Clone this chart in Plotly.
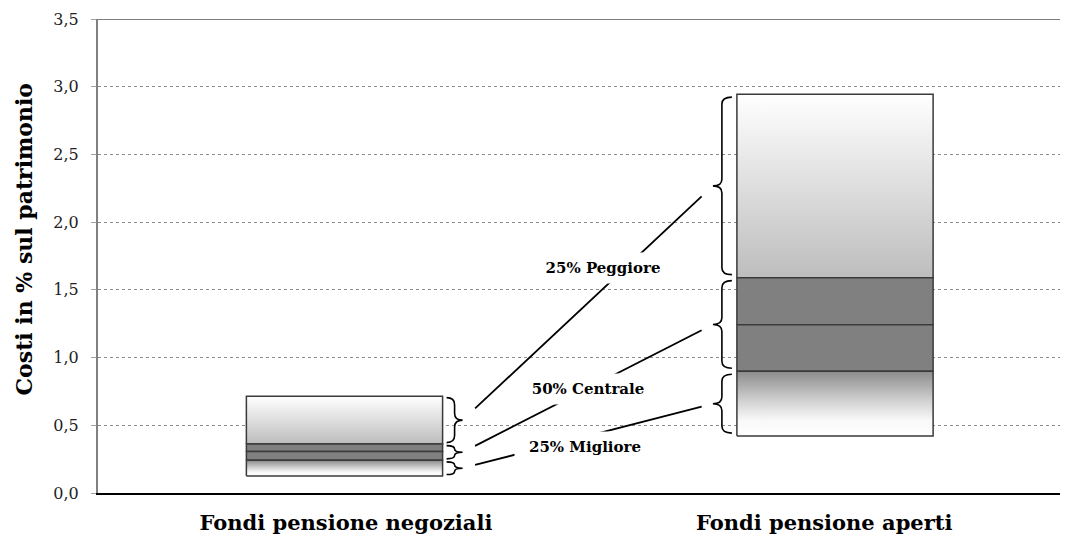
import plotly.graph_objects as go

# ---------------- data ----------------
categories = ["Fondi pensione negoziali", "Fondi pensione aperti"]
cost_min = [0.125, 0.42]
cost_q1 = [0.241, 0.899]
cost_median = [0.307, 1.243]
cost_q3 = [0.361, 1.59]
cost_max = [0.715, 2.945]
band_labels = ["25% Peggiore", "50% Centrale", "25% Migliore"]
y_ticks = [0.0, 0.5, 1.0, 1.5, 2.0, 2.5, 3.0, 3.5]

# ---------------- layout constants ----------------
# the page body has an 8px margin, so the figure is offset by 8px
W, H = 1060, 527
ML, MR, MT, MB = 90, 0, 11, 42
X_RANGE = [-0.5025, 1.475]
Y_RANGE = [0, 3.5]
PXX = (W - ML - MR) / (X_RANGE[1] - X_RANGE[0])   # px per x unit
PXY = (H - MT - MB) / (Y_RANGE[1] - Y_RANGE[0])   # px per y unit
HALF = 0.2
FONT = "DejaVu Serif"
label_pos = [0.003, 0.978]
OUTLINE = "#3a3a3a"

top_scale = [[0, "#bdbdbd"], [1, "#ffffff"]]
bot_scale = [[0, "#ffffff"], [0.25, "#f8f8f8"], [0.55, "#d0d0d0"], [1, "#8c8c8c"]]
MID = "#808080"

fig = go.Figure()


def rect(c, lo, hi, **kw):
    fig.add_trace(go.Scatter(
        x=[c - HALF, c + HALF, c + HALF, c - HALF, c - HALF],
        y=[lo, lo, hi, hi, lo],
        mode="lines", fill="toself",
        line=dict(color=OUTLINE, width=1.5),
        hoverinfo="skip", showlegend=False, **kw))


for i, _ in enumerate(categories):
    c = i
    rect(c, cost_q3[i], cost_max[i], fillgradient=dict(type="vertical", colorscale=top_scale))
    rect(c, cost_median[i], cost_q3[i], fillcolor=MID)
    rect(c, cost_q1[i], cost_median[i], fillcolor=MID)
    rect(c, cost_min[i], cost_q1[i], fillgradient=dict(type="vertical", colorscale=bot_scale))

shapes = []
# top border of the plot area
shapes.append(dict(type="line", xref="paper", yref="y", x0=0, x1=1,
                   y0=Y_RANGE[1], y1=Y_RANGE[1], line=dict(color="#808080", width=2)))


def brace(xs, lo, hi, d, e_px, t_px, inset_px):
    e = e_px / PXX
    t = t_px / PXX
    lo = lo + inset_px / PXY
    hi = hi - inset_px / PXY
    mid = (lo + hi) / 2
    r = min(7 / PXY, (hi - lo) / 4)
    xe = xs - d * e
    xt = xs + d * t
    path = (f"M {xe},{hi} Q {xs},{hi} {xs},{hi - r} L {xs},{mid + r} "
            f"Q {xs},{mid} {xt},{mid} Q {xs},{mid} {xs},{mid - r} "
            f"L {xs},{lo + r} Q {xs},{lo} {xe},{lo}")
    shapes.append(dict(type="path", xref="x", yref="y", path=path,
                       line=dict(color="black", width=1.6)))
    return xt, mid


def segments(i):
    return [(cost_q3[i], cost_max[i]), (cost_q1[i], cost_q3[i]), (cost_min[i], cost_q1[i])]


# left box braces (pointing right), right box braces (pointing left)
left_tips = []
xs_left = 0 + HALF + 12 / PXX
for lo, hi in segments(0):
    left_tips.append(brace(xs_left, lo, hi, +1, 8, 8, 1.5))
right_tips = []
xs_right = 1 - HALF - 15 / PXX
for lo, hi in segments(1):
    right_tips.append(brace(xs_right, lo, hi, -1, 10, 9, 3))

# connecting lines
for (x0, y0), (x1, y1) in zip(left_tips, right_tips):
    f0, f1 = 0.05, 0.955
    shapes.append(dict(type="line", xref="x", yref="y",
                       x0=x0 + (x1 - x0) * f0, y0=y0 + (y1 - y0) * f0,
                       x1=x0 + (x1 - x0) * f1, y1=y0 + (y1 - y0) * f1,
                       line=dict(color="black", width=1.8)))

label_xy = [(0.527, 1.661), (0.496, 0.768), (0.490, 0.340)]
annotations = []
for txt, (ax, ay) in zip(band_labels, label_xy):
    annotations.append(dict(x=ax, y=ay, xref="x", yref="y", text=f"<b>{txt}</b>",
                            showarrow=False, bgcolor="white", width=138, height=28,
                            font=dict(family=FONT, size=15, color="black")))

# y axis title
annotations.append(dict(x=-0.0763, y=0.535, xref="paper", yref="paper",
                        xanchor="center", yanchor="middle", textangle=-90,
                        text="<b>Costi in % sul patrimonio</b>", showarrow=False,
                        font=dict(family=FONT, size=22, color="black")))

fig.update_layout(
    width=W, height=H,
    margin=dict(l=ML, r=MR, t=MT, b=MB, pad=0),
    paper_bgcolor="white", plot_bgcolor="white",
    separators=",.",
    showlegend=False,
    shapes=shapes,
    annotations=annotations,
    font=dict(family=FONT, color="black"),
    xaxis=dict(range=X_RANGE, showgrid=False, zeroline=False,
               showline=True, linecolor="black", linewidth=1.5,
               tickmode="array", tickvals=label_pos, ticktext=[f"<b>{c}</b>" for c in categories],
               ticks="", tickfont=dict(family=FONT, size=21, color="black"),
               ticklabelstandoff=10),
    yaxis=dict(range=Y_RANGE, tickmode="array", tickvals=y_ticks, tickformat=".1f",
               showgrid=True, gridcolor="#8c8c8c", griddash="dot", gridwidth=1,
               zeroline=False, showline=True, linecolor="#808080", linewidth=2,
               ticks="outside", ticklen=5, tickcolor="#a0a0a0", tickwidth=1,
               tickfont=dict(family=FONT, size=16, color="#222"),
               ticklabelstandoff=9),
)

fig.write_html("out.html")
